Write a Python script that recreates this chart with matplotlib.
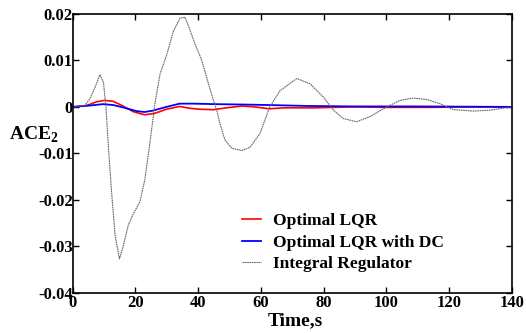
import matplotlib
matplotlib.use("Agg")
import matplotlib.pyplot as plt

plt.rcParams['font.family'] = ['Liberation Serif', 'DejaVu Serif']
plt.rcParams['font.weight'] = 'bold'
plt.rcParams['mathtext.fontset'] = 'custom'
plt.rcParams['mathtext.rm'] = 'Liberation Serif:bold'
plt.rcParams['mathtext.bf'] = 'Liberation Serif:bold'

# values
t_int = [0, 3.9, 5.5, 7.1, 8.7, 9.8, 10.6, 11.3, 12.4, 13.5, 14.9, 16.1, 17.7,
         19.3, 21.4, 23.0, 24.6, 26.2, 27.8, 30.0, 32.1, 34.2, 35.8, 37.4,
         39.0, 41.1, 43.2, 44.8, 45.9, 46.9, 48.5, 50.7, 53.9, 56.5, 59.7,
         62.8, 66.1, 71.4, 75.6, 79.9, 83.1, 86.2, 90.5, 94.7, 100.1, 104.3,
         108.5, 112.8, 117.0, 121.3, 127.7, 133.0, 140]
ace_int = [0, 0.0003, 0.0018, 0.0042, 0.0069, 0.0053, 0.0, -0.0078, -0.0184,
           -0.0276, -0.0327, -0.030, -0.0255, -0.023, -0.0205, -0.0156,
           -0.0078, 0.0007, 0.007, 0.0113, 0.0163, 0.0191, 0.0193, 0.0165,
           0.0135, 0.0101, 0.0051, 0.0015, -0.0007, -0.0035, -0.0071, -0.0089,
           -0.0094, -0.0087, -0.0057, 0.0, 0.0035, 0.0061, 0.005, 0.0021,
           -0.0007, -0.0025, -0.0032, -0.0021, 0.0, 0.0014, 0.0019, 0.0016,
           0.0007, -0.0006, -0.0009, -0.0007, 0.0]

t_lqr = [0, 4.5, 7.6, 10.2, 12.9, 16.0, 19.2, 22.9, 26.1, 29.9, 34.1, 37.3,
         40.5, 44.8, 49.0, 54.0, 58.0, 62.6, 67.5, 77, 90, 100, 115, 125, 140]
ace_lqr = [0, 0.0003, 0.0011, 0.0014, 0.0012, 0.0002, -0.001, -0.0017,
           -0.0014, -0.0005, 0.0001, -0.0003, -0.0005, -0.0006, -0.0002,
           0.0002, 0.0, -0.0004, -0.0002, -0.0002, 0.0, -0.0001, -0.0001,
           0.0, 0.0]

t_dc = [0, 5.6, 9.7, 12.9, 16.0, 20.3, 22.9, 25.6, 29.9, 34.1, 38.3, 44.8,
        55, 62.6, 75, 90, 110, 140]
ace_dc = [0, 0.0003, 0.0006, 0.0004, -0.0001, -0.0009, -0.0011, -0.0008, 0.0,
          0.0007, 0.0007, 0.0006, 0.0005, 0.0004, 0.0002, 0.0001, 0.0001, 0.0]

xticks = [0, 20, 40, 60, 80, 100, 120, 140]
yticks = [0.02, 0.01, 0, -0.01, -0.02, -0.03, -0.04]
ytick_labels = ['0.02', '0.01', '0', '-0.01', '-0.02', '-0.03', '-0.04']

fig = plt.figure(figsize=(5.26, 3.33), dpi=100)
ax = fig.add_axes([0.1382, 0.121, 0.8352, 0.837])

ax.plot(t_lqr, ace_lqr, color='red', lw=1.2, label='Optimal LQR')
ax.plot(t_dc, ace_dc, color='blue', lw=1.3, label='Optimal LQR with DC')
ax.plot(t_int, ace_int, color='0.4', lw=0.8, ls=(0, (1.5, 0.6)),
        label='Integral Regulator')

ax.set_xlim(0, 140)
ax.set_ylim(-0.04, 0.02)
ax.set_xticks(xticks)
ax.set_yticks(yticks)
ax.set_yticklabels(ytick_labels)
ax.tick_params(direction='in', top=True, right=True, length=4, width=1,
               labelsize=12)
ax.tick_params(axis='y', pad=0)
ax.tick_params(axis='x', pad=2)
for lab in ax.get_xticklabels() + ax.get_yticklabels():
    lab.set_fontweight('bold')
for s in ax.spines.values():
    s.set_linewidth(1.2)

ax.set_xlabel('Time,s', fontsize=14, fontweight='bold')
ax.xaxis.set_label_coords(0.507, -0.07)
ax.xaxis.label.set_va('top')
ax.set_ylabel(r'ACE$_2$', fontsize=14, fontweight='bold', rotation=0,
              va='center', ha='center')
ax.yaxis.set_label_coords(-0.088, 0.565)

leg = ax.legend(loc='upper left', bbox_to_anchor=(0.385, 0.285),
                frameon=False, fontsize=12.5, handlelength=1.1,
                handletextpad=0.7, labelspacing=0.3, borderpad=0,
                borderaxespad=0)
for txt in leg.get_texts():
    txt.set_fontweight('bold')

fig.savefig('out.png', dpi=100)
